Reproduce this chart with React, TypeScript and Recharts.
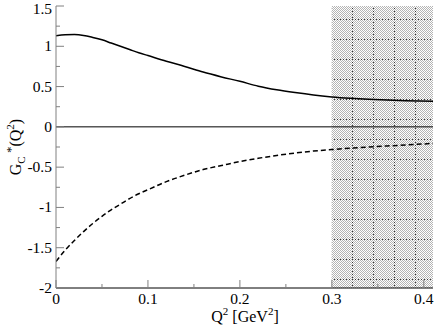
import React from 'react';
import { LineChart, Line, XAxis, YAxis, ReferenceLine, ReferenceArea } from 'recharts';

const qValues = [0, 0.01, 0.02, 0.03, 0.04, 0.05, 0.06, 0.07, 0.08, 0.09, 0.10, 0.12, 0.14, 0.16, 0.18, 0.20, 0.22, 0.24, 0.26, 0.28, 0.30, 0.32, 0.34, 0.36, 0.38, 0.41];
const solidValues = [1.13, 1.142, 1.145, 1.135, 1.11, 1.08, 1.04, 1.0, 0.96, 0.92, 0.885, 0.815, 0.75, 0.68, 0.62, 0.565, 0.505, 0.46, 0.425, 0.395, 0.372, 0.355, 0.342, 0.332, 0.325, 0.318];
const dashedValues = [-1.67, -1.53, -1.41, -1.30, -1.20, -1.11, -1.03, -0.96, -0.89, -0.83, -0.78, -0.68, -0.60, -0.53, -0.48, -0.43, -0.39, -0.355, -0.325, -0.30, -0.282, -0.265, -0.25, -0.237, -0.225, -0.205];

const xTicks = [0, 0.05, 0.1, 0.15, 0.2, 0.25, 0.3, 0.35, 0.4];
const xMajorLabels: Record<string, string> = { '0': '0', '0.1': '0.1', '0.2': '0.2', '0.3': '0.3', '0.4': '0.4' };
const yTicks = [-2, -1.75, -1.5, -1.25, -1, -0.75, -0.5, -0.25, 0, 0.25, 0.5, 0.75, 1, 1.25, 1.5];
const yMajorLabels: Record<string, string> = { '-2': '-2', '-1.5': '-1.5', '-1': '-1', '-0.5': '-0.5', '0': '0', '0.5': '0.5', '1': '1', '1.5': '1.5' };
const shadeFrom = 0.3;
const shadeTo = 0.41;

const data = qValues.map((q, i) => ({ q, solid: solidValues[i], dashed: dashedValues[i] }));

const FONT = "'Liberation Serif', 'Times New Roman', Times, serif";
const TICK_COLOR = '#808080';
const textStyle = { fontFamily: FONT };

const BottomTick = (props: any) => {
  const { x, y, payload } = props;
  const label = xMajorLabels[String(payload.value)];
  const len = label !== undefined ? 8 : 4;
  return (
    <g>
      <line x1={x} y1={y} x2={x} y2={y - len} stroke={TICK_COLOR} strokeWidth={1} />
      {label !== undefined && (
        <text x={x} y={y + 16} textAnchor="middle" style={textStyle} fontSize={15.5} fill="#000">{label}</text>
      )}
    </g>
  );
};

const TopTick = (props: any) => {
  const { x, y, payload } = props;
  const major = xMajorLabels[String(payload.value)] !== undefined;
  const len = major ? 8 : 4;
  return <line x1={x} y1={y} x2={x} y2={y + len} stroke={TICK_COLOR} strokeWidth={1} />;
};

const LeftTick = (props: any) => {
  const { x, y, payload } = props;
  const label = yMajorLabels[String(payload.value)];
  const len = label !== undefined ? 8 : 4;
  const baseline = Math.max(y + 5, 14);
  return (
    <g>
      <line x1={x} y1={y} x2={x + len} y2={y} stroke={TICK_COLOR} strokeWidth={1} />
      {label !== undefined && (
        <text x={x - 4} y={baseline} textAnchor="end" style={textStyle} fontSize={15.5} fill="#000">{label}</text>
      )}
    </g>
  );
};

const RightTick = (props: any) => {
  const { x, y, payload } = props;
  const major = yMajorLabels[String(payload.value)] !== undefined;
  const len = major ? 8 : 4;
  return <line x1={x} y1={y} x2={x - len} y2={y} stroke={TICK_COLOR} strokeWidth={1} />;
};

export default function App() {
  return (
    <div style={{ position: 'absolute', left: 0, top: 0, width: 436, height: 328, background: '#fff' }}>
      <svg width={0} height={0} style={{ position: 'absolute' }}>
        <defs>
          <pattern id="checker" patternUnits="userSpaceOnUse" x={0} y={0} width={2} height={2}>
            <rect x={0} y={0} width={1} height={1} fill="#b4b4b4" />
            <rect x={1} y={1} width={1} height={1} fill="#b4b4b4" />
          </pattern>
          <pattern id="gridlines" patternUnits="userSpaceOnUse" x={16} y={19} width={21} height={20}>
            <line x1={0.5} y1={0} x2={0.5} y2={20} stroke="#333" strokeWidth={1} strokeDasharray="1 2" />
            <line x1={0} y1={0.5} x2={21} y2={0.5} stroke="#333" strokeWidth={1} strokeDasharray="1 2" />
          </pattern>
        </defs>
      </svg>
      <LineChart width={436} height={328} data={data} margin={{ top: 6, right: 3, bottom: 0, left: 0 }}>
        <XAxis
          xAxisId="b"
          dataKey="q"
          type="number"
          domain={[0, 0.41]}
          allowDataOverflow
          ticks={xTicks}
          tick={<BottomTick />}
          tickLine={false}
          tickSize={0}
          tickMargin={0}
          height={40}
          axisLine={{ stroke: '#000', strokeWidth: 1 }}
          interval={0}
        />
        <XAxis
          xAxisId="t"
          orientation="top"
          dataKey="q"
          type="number"
          domain={[0, 0.41]}
          allowDataOverflow
          ticks={xTicks}
          tick={<TopTick />}
          tickLine={false}
          tickSize={0}
          tickMargin={0}
          height={0}
          axisLine={{ stroke: '#000', strokeWidth: 1 }}
          interval={0}
        />
        <YAxis
          yAxisId="l"
          type="number"
          domain={[-2, 1.5]}
          allowDataOverflow
          ticks={yTicks}
          tick={<LeftTick />}
          tickLine={false}
          tickSize={0}
          tickMargin={0}
          width={56}
          axisLine={{ stroke: TICK_COLOR, strokeWidth: 1 }}
          interval={0}
        />
        <YAxis
          yAxisId="r"
          orientation="right"
          type="number"
          domain={[-2, 1.5]}
          allowDataOverflow
          ticks={yTicks}
          tick={<RightTick />}
          tickLine={false}
          tickSize={0}
          tickMargin={0}
          width={0}
          axisLine={{ stroke: TICK_COLOR, strokeWidth: 1 }}
          interval={0}
        />
        <ReferenceArea xAxisId="b" yAxisId="l" x1={shadeFrom} x2={shadeTo} y1={-2} y2={1.5} fill="url(#checker)" fillOpacity={1} stroke="none" ifOverflow="hidden" />
        <ReferenceArea xAxisId="b" yAxisId="l" x1={shadeFrom} x2={shadeTo} y1={-2} y2={1.5} fill="url(#gridlines)" fillOpacity={1} stroke="none" ifOverflow="hidden" />
        <ReferenceLine xAxisId="b" yAxisId="l" y={0} stroke="#000" strokeWidth={1} />
        <Line xAxisId="b" yAxisId="l" type="monotone" dataKey="solid" stroke="#000" strokeWidth={1.5} dot={false} isAnimationActive={false} />
        <Line xAxisId="b" yAxisId="l" type="monotone" dataKey="dashed" stroke="#000" strokeWidth={1.5} strokeDasharray="5 3" dot={false} isAnimationActive={false} />
        <Line xAxisId="t" yAxisId="r" type="monotone" dataKey="solid" stroke="none" dot={false} isAnimationActive={false} legendType="none" />
      </LineChart>
      <svg width={436} height={328} style={{ position: 'absolute', left: 0, top: 0, pointerEvents: 'none' }}>
        <text x={245} y={322} textAnchor="middle" style={textStyle} fontSize={16} fill="#000">
          <tspan>Q</tspan>
          <tspan fontSize={11} dy={-7}>2</tspan>
          <tspan dy={7}> [GeV</tspan>
          <tspan fontSize={11} dy={-7}>2</tspan>
          <tspan dy={7}>]</tspan>
        </text>
        <text transform="translate(21,147) rotate(-90)" textAnchor="middle" style={textStyle} fontSize={16} fill="#000">
          <tspan>G</tspan>
          <tspan fontSize={11} dy={4}>C</tspan>
          <tspan fontSize={13} dy={-10}> *</tspan>
          <tspan dy={6}>(Q</tspan>
          <tspan fontSize={11} dy={-7}>2</tspan>
          <tspan dy={7}>)</tspan>
        </text>
      </svg>
    </div>
  );
}
